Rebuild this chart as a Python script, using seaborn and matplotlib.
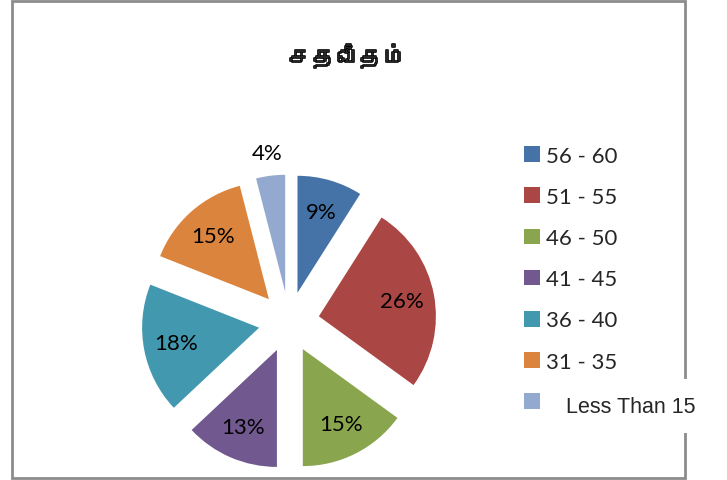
import matplotlib
matplotlib.use("Agg")
import numpy as np
import seaborn as sns
import matplotlib.pyplot as plt
from matplotlib import font_manager, transforms, patheffects
from matplotlib.patches import Rectangle
from matplotlib.ft2font import FT2Font


title = "சதவீதம்"
age_groups = ["56 - 60", "51 - 55", "46 - 50", "41 - 45", "36 - 40", "31 - 35", "Less Than 15"]
percent = [9, 26, 15, 13, 18, 15, 4]
colors = ["#4572A7", "#AA4643", "#89A54E", "#71588F", "#4198AF", "#DB843D", "#93A9CF"]


def find_tamil_font():
    # look for any installed font that has Tamil glyphs
    for f in font_manager.fontManager.ttflist:
        try:
            if 0x0B9A in FT2Font(f.fname).get_charmap():
                return f.name
        except Exception:
            continue
    return None


sns.set_theme(style="white")
plt.rcParams["font.family"] = ["Lato", "DejaVu Sans"]

W, H = 727, 481
fig = plt.figure(figsize=(W / 100, H / 100), dpi=100)

# outer chart border
frame = Rectangle((12 / W, 2 / H), (685 - 12) / W, (479 - 2) / H,
    transform=fig.transFigure, fill=False, edgecolor="#8c8c8c", lw=2, zorder=0)
fig.add_artist(frame)

# Pie
cx, cy, half = 289, 481 - 323, 150
ax = fig.add_axes([(cx - half) / W, (cy - half) / H, 2 * half / W, 2 * half / H])
wedges, texts, autotexts = ax.pie(
    percent, colors=colors, startangle=90, counterclock=False,
    explode=[0.26] * len(percent), autopct=lambda p: f"{p:.0f}%",
    pctdistance=0.72, textprops=dict(fontsize=16, color="black"),
    wedgeprops=dict(linewidth=0))
lim = half / 117
ax.set_xlim(-lim, lim)
ax.set_ylim(-lim, lim)
ax.axis("off")

# small slice label goes outside
for w, t, v in zip(wedges, autotexts, percent):
    if v < 5:
        th = np.deg2rad((w.theta1 + w.theta2) / 2)
        x0, y0 = w.center
        t.set_position((x0 + 1.2 * w.r * np.cos(th), y0 + 1.2 * w.r * np.sin(th)))

# Title
tamil = find_tamil_font()
fam = [tamil, "DejaVu Sans"] if tamil else ["DejaVu Sans"]
fig.text(348 / W, 1 - 57 / H, title, ha="center", va="center",
    fontsize=17, fontweight="bold", family=fam,
    path_effects=[patheffects.withStroke(linewidth=1.2, foreground="black")])

# Legend
leg = fig.legend(wedges, age_groups, loc="upper left",
    bbox_to_anchor=(524 / W, 1 - 147 / H), frameon=False, fontsize=16,
    borderpad=0, borderaxespad=0, handlelength=0.72, handleheight=0.72,
    handletextpad=0.27, labelspacing=0.95)
leg.set_zorder(5)
last = leg.get_texts()[-1]
last.set_fontfamily(["Liberation Sans", "DejaVu Sans"])
last.set_fontsize(15.5)
last.set_bbox(dict(facecolor="white", edgecolor="none", pad=12))
last.set_transform(last.get_transform()
    + transforms.ScaledTranslation(0.2, -0.03, fig.dpi_scale_trans))

fig.savefig("out.png", dpi=100)
